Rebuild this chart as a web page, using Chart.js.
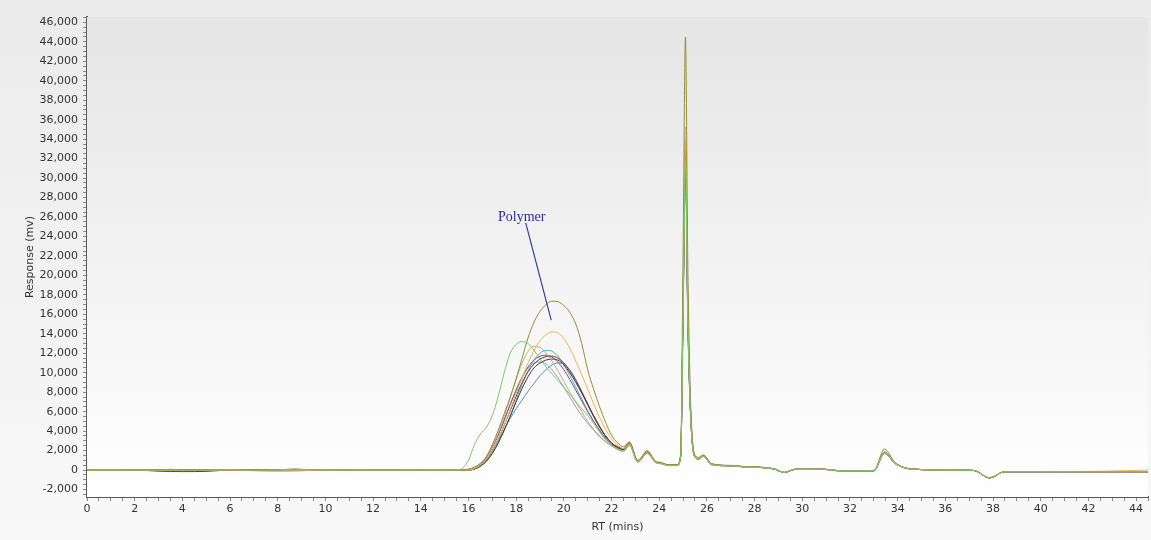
<!DOCTYPE html>
<html>
<head>
<meta charset="utf-8">
<script src="https://cdn.jsdelivr.net/npm/chart.js@4"></script>
<style>
  html, body { margin: 0; padding: 0; }
  body { width: 1151px; height: 540px; background: linear-gradient(#ebebeb, #f8f8f8); overflow: hidden; }
  #wrap { width: 1151px; height: 540px; position: relative; }
</style>
</head>
<body>
<div id="wrap"><canvas id="c"></canvas></div>
<script>
// retention times (mins), shared by every trace
const rt = [
  0, 1, 2, 3, 3.5, 4, 5, 6, 7, 8, 8.7, 9.5, 10, 11, 12, 13, 14, 15,
  15.5, 15.75, 16, 16.25, 16.5, 16.75, 17, 17.25, 17.5, 17.75, 18, 18.25, 18.5, 18.75, 19, 19.25, 19.5, 19.75, 20, 20.25, 20.5, 20.75, 21, 21.25, 21.5, 21.75, 22, 22.25, 22.5,
  22.75, 23.1, 23.5, 23.85, 24.05, 24.4, 24.75, 24.9, 25.0, 25.1, 25.2, 25.35, 25.55, 25.65, 25.85, 26.2, 27, 27.5, 28.8, 29.25, 29.7, 30.9, 31.6, 33, 33.45, 33.9, 34.6, 36.3, 37.2, 37.85, 38.5, 40, 42.6, 44.5
];

// response (mv) per injection
const olive = [
  0, 10, 0, -20, 30, -10, 0, 20, 0, 20, 60, 10, 0, 0, 10, 0, 0, 0,
  0, 0, 100, 300, 700, 1400, 2600, 4100, 5800, 7500, 9400, 11500, 13600, 15200, 16300, 17000, 17350, 17300, 16900, 16200, 15000, 13000, 10300, 8300, 6500, 4900, 3600, 2800, 2400,
  2900, 1000, 2000, 900, 800, 550, 550, 1700, 22000, 44500, 21000, 5000, 1400, 1300, 1550, 650, 480, 380, 150, -250, 90, 80, -80, -60, 2150, 750, 120, 0, -50, -800, -170, -170, -170, -170
];
const orange = [
  0, 0, -20, -40, 0, -30, -20, 0, -80, -150, -120, -30, 0, 0, -10, 0, 0, 0,
  0, 0, 0, 150, 500, 1100, 2000, 3200, 4600, 6200, 7900, 9500, 11000, 12300, 13300, 13900, 14200, 14100, 13500, 12500, 11200, 9800, 8300, 6800, 5400, 4200, 3200, 2600, 2200,
  2700, 900, 1800, 800, 700, 500, 500, 1500, 17500, 35200, 17000, 4400, 1300, 1200, 1450, 600, 450, 350, 120, -200, 60, 60, -100, -80, 1850, 700, 100, 0, -50, -760, -150, -150, -120, 0
];
const green = [
  0, 10, 10, 0, 20, 0, 10, 30, 0, 20, 80, 20, 10, 10, 10, 0, 10, 0,
  0, 200, 1000, 2600, 3700, 4400, 5600, 7600, 10000, 12000, 12900, 13200, 13000, 12300, 11400, 10600, 9900, 9200, 8500, 7800, 7000, 6300, 5600, 4800, 3900, 3100, 2500, 2100, 1900,
  2500, 800, 1700, 750, 650, 450, 450, 1400, 16000, 31800, 15500, 4000, 1200, 1100, 1400, 550, 430, 330, 120, -250, 80, 80, -70, -70, 1750, 650, 100, 0, -40, -780, -170, -170, -170, -170
];
const khaki = [
  0, 0, 0, -20, 0, -20, -10, 10, -20, -40, -20, 0, 0, 0, 0, 0, 0, 0,
  0, 0, 0, 200, 600, 1300, 2400, 3800, 5500, 7400, 9300, 11000, 12200, 12700, 12600, 12000, 11200, 10200, 9100, 8000, 7000, 6000, 5000, 4200, 3500, 2900, 2500, 2200, 2000,
  2650, 850, 1750, 800, 700, 500, 500, 1500, 17000, 34200, 16500, 4300, 1250, 1150, 1450, 600, 440, 340, 130, -230, 80, 80, -80, -70, 1800, 680, 100, 0, -50, -790, -170, -170, -170, -170
];
const teal = [
  0, 0, 10, 0, 80, 20, 0, 20, 0, 10, 30, 0, 0, 0, 0, 0, 0, 0,
  0, 0, 0, 100, 400, 900, 1700, 2800, 4100, 5600, 7200, 8800, 10200, 11300, 12000, 12300, 12200, 11700, 10800, 9700, 8500, 7300, 6100, 5000, 4000, 3200, 2600, 2200, 2000,
  2600, 850, 1750, 800, 700, 480, 480, 1400, 15500, 31000, 15000, 4000, 1200, 1100, 1400, 550, 420, 330, 110, -240, 70, 70, -80, -80, 1700, 650, 100, 0, -40, -800, -170, -170, -170, -170
];
const steel = [
  0, 0, 0, 0, 40, 10, 0, 0, 0, 0, 20, 0, 0, 0, 0, 0, 0, 0,
  0, 0, 0, 100, 400, 1000, 1900, 3000, 4200, 5300, 6300, 7200, 8100, 8900, 9700, 10300, 10800, 11000, 10900, 10300, 9300, 8100, 6800, 5500, 4400, 3500, 2800, 2300, 2100,
  2600, 850, 1700, 780, 680, 480, 480, 1400, 15700, 31500, 15200, 4000, 1200, 1100, 1400, 550, 420, 330, 110, -240, 70, 70, -80, -80, 1700, 650, 100, 0, -40, -800, -170, -170, -170, -170
];
const purple = [
  0, 0, 0, -10, 0, -10, 0, 0, -10, 0, 0, 0, 0, 0, 0, 0, 0, 0,
  0, 0, 0, 200, 600, 1300, 2300, 3600, 5100, 6700, 8200, 9500, 10600, 11300, 11700, 11800, 11600, 11100, 10300, 9300, 8200, 7100, 6000, 5000, 4100, 3300, 2700, 2300, 2100,
  2700, 900, 1800, 800, 700, 500, 500, 1450, 16200, 32500, 15800, 4100, 1250, 1150, 1450, 600, 440, 340, 120, -250, 70, 70, -90, -80, 1800, 680, 100, 0, -50, -790, -170, -170, -170, -170
];
const maroon = [
  0, 0, 0, -120, -150, -160, -140, 0, 0, 0, 20, 0, 0, 0, 0, 0, 0, 0,
  0, 0, 0, 150, 500, 1100, 2000, 3200, 4600, 6100, 7600, 9000, 10100, 10900, 11400, 11650, 11700, 11500, 11000, 10200, 9200, 8000, 6800, 5600, 4500, 3500, 2800, 2400, 2200,
  2800, 900, 1850, 820, 720, 500, 500, 1500, 17000, 33800, 16500, 4300, 1300, 1200, 1500, 600, 450, 350, 130, -250, 80, 80, -80, -70, 1850, 700, 100, 0, -50, -800, -170, -170, -170, -170
];
const charcoal = [
  0, 20, 10, 0, 0, 0, 20, 40, 0, 30, 90, 20, 0, 0, 0, 0, 0, 0,
  0, 0, 0, 100, 400, 900, 1700, 2800, 4100, 5500, 7000, 8400, 9600, 10500, 11000, 11300, 11400, 11300, 10800, 10000, 9000, 7900, 6700, 5500, 4400, 3500, 2800, 2300, 2100,
  2750, 900, 1850, 820, 720, 500, 500, 1450, 16500, 33000, 16000, 4200, 1250, 1150, 1500, 600, 450, 350, 130, -260, 80, 80, -80, -70, 1850, 700, 100, 0, -50, -800, -170, -170, -170, -170
];
const lavender = [
  0, 0, 0, 0, 20, 0, 0, 10, 0, 0, 10, 0, 0, 0, 0, 0, 0, 0,
  0, 0, 0, 200, 600, 1300, 2400, 3700, 5200, 6800, 8300, 9600, 10500, 11000, 11100, 10900, 10300, 9500, 8500, 7500, 6500, 5600, 4800, 4100, 3400, 2900, 2500, 2200, 2000,
  2600, 850, 1750, 790, 690, 480, 480, 1400, 16000, 32000, 15500, 4000, 1200, 1100, 1400, 550, 430, 330, 120, -240, 70, 70, -80, -80, 1750, 660, 100, 0, -40, -790, -170, -170, -170, -170
];

// axis ticks: labelled every 2 mins / 2,000 mv, minor marks in between
const xTickLabels = [0, 2, 4, 6, 8, 10, 12, 14, 16, 18, 20, 22, 24, 26, 28, 30, 32, 34, 36, 38, 40, 42, 44];
const yTickLabels = [-2000, 0, 2000, 4000, 6000, 8000, 10000, 12000, 14000, 16000, 18000, 20000, 22000,
  24000, 26000, 28000, 30000, 32000, 34000, 36000, 38000, 40000, 42000, 44000, 46000];

// "Polymer" callout: label spot and pointer end, in (RT, mv)
const calloutText = "Polymer";
const calloutFrom = [18.4, 25400];
const calloutTo = [19.47, 15400];

// first entry is drawn on top
const traces = [
  { name: "green", data: green, color: "#7cc86c" },
  { name: "olive", data: olive, color: "#948c3c" },
  { name: "orange", data: orange, color: "#f0b64c" },
  { name: "khaki", data: khaki, color: "#b9b46c" },
  { name: "maroon", data: maroon, color: "#8b2c2c" },
  { name: "charcoal", data: charcoal, color: "#3c3c3c" },
  { name: "purple", data: purple, color: "#7e4f8e" },
  { name: "lavender", data: lavender, color: "#a692cc" },
  { name: "teal", data: teal, color: "#45b5b5" },
  { name: "steel", data: steel, color: "#4f8fc0" },
];

// major labels plus 3 unlabelled minor marks between each pair
function withMinor(labels, step, lo, hi) {
  const out = [];
  const sub = step / 4;
  for (let v = labels[0] - step; v <= hi + 1e-9; v += sub) {
    if (v >= lo - 1e-9) out.push({ value: +v.toFixed(6) });
  }
  return out;
}

const plotBg = {
  id: "plotBg",
  beforeDatasetsDraw(chart) {
    const { ctx, chartArea: a } = chart;
    const g = ctx.createLinearGradient(0, a.top, 0, a.bottom);
    g.addColorStop(0, "#e5e5e5");
    g.addColorStop(1, "#ffffff");
    ctx.save();
    ctx.fillStyle = g;
    ctx.fillRect(a.left, a.top, a.right - a.left, a.bottom - a.top);
    ctx.restore();
  },
};

const callout = {
  id: "callout",
  afterDatasetsDraw(chart) {
    const { ctx, scales: { x, y } } = chart;
    const x0 = x.getPixelForValue(calloutFrom[0]), y0 = y.getPixelForValue(calloutFrom[1]);
    const x1 = x.getPixelForValue(calloutTo[0]), y1 = y.getPixelForValue(calloutTo[1]);
    ctx.save();
    ctx.strokeStyle = "#3d3d9c";
    ctx.lineWidth = 1.2;
    ctx.beginPath();
    ctx.moveTo(x0, y0);
    ctx.lineTo(x1, y1);
    ctx.stroke();
    ctx.fillStyle = "#2b2b9a";
    ctx.font = "14px 'Liberation Serif', serif";
    ctx.textAlign = "center";
    ctx.textBaseline = "bottom";
    ctx.fillText(calloutText, x0 - 4, y0 + 1);
    ctx.restore();
  },
};

const tickFont = { family: "'DejaVu Sans', Verdana, sans-serif", size: 11 };
const X_MIN = 0, X_MAX = 44.5, Y_MIN = -2770, Y_MAX = 46550;

new Chart(document.getElementById("c"), {
  type: "line",
  data: {
    datasets: traces.map((t) => ({
      label: t.name,
      data: rt.map((v, i) => ({ x: v, y: t.data[i] })),
      borderColor: t.color,
      borderWidth: 1,
      pointRadius: 0,
      cubicInterpolationMode: "monotone",
      fill: false,
    })),
  },
  plugins: [plotBg, callout],
  options: {
    responsive: true,
    maintainAspectRatio: false,
    animation: false,
    events: [],
    layout: { padding: { left: 24, top: 17, right: 3, bottom: 0 } },
    plugins: { legend: { display: false }, tooltip: { enabled: false } },
    scales: {
      x: {
        type: "linear",
        min: X_MIN,
        max: X_MAX,
        afterFit: (s) => { s.height = 43; },
        afterBuildTicks: (s) => { s.ticks = withMinor(xTickLabels, 2, X_MIN, X_MAX); },
        border: { color: "#5a5a5a", width: 2 },
        grid: { drawOnChartArea: false, drawTicks: true, tickLength: 4, color: "#8a8a8a" },
        ticks: {
          autoSkip: false,
          maxRotation: 0,
          color: "#333",
          font: tickFont,
          padding: 2,
          callback: (v) => (xTickLabels.includes(v) ? String(v) : ""),
        },
        title: { display: true, text: "RT (mins)", color: "#333", font: tickFont, padding: { top: 0, bottom: 6 } },
      },
      y: {
        min: Y_MIN,
        max: Y_MAX,
        afterFit: (s) => { s.width = 63; },
        afterBuildTicks: (s) => { s.ticks = withMinor(yTickLabels, 2000, Y_MIN, Y_MAX); },
        border: { color: "#5a5a5a", width: 2 },
        grid: { drawOnChartArea: false, drawTicks: true, tickLength: 4, color: "#8a8a8a" },
        ticks: {
          autoSkip: false,
          color: "#333",
          font: tickFont,
          padding: 5,
          callback: (v) => (yTickLabels.includes(v) ? v.toLocaleString("en-US") : ""),
        },
        title: { display: true, text: "Response (mv)", color: "#333", font: tickFont, padding: { top: 0, bottom: 2 } },
      },
    },
  },
});
</script>
</body>
</html>
